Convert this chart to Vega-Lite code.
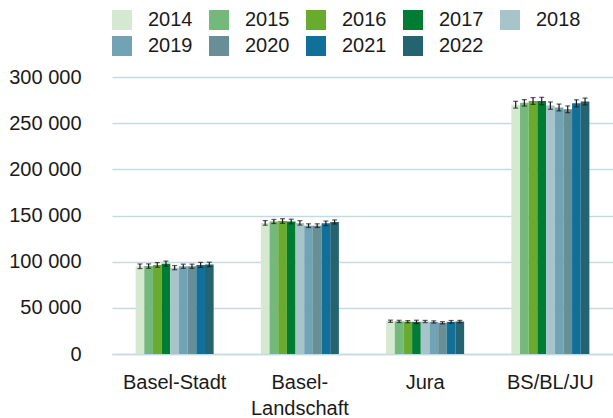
{
  "$schema": "https://vega.github.io/schema/vega-lite/v6.json",
  "width": 501,
  "height": 277,
  "autosize": {"type": "none"},
  "padding": {"left": 112, "top": 77, "right": 0, "bottom": 64},
  "config": {
    "font": "Liberation Sans",
    "view": {"stroke": null},
    "locale": {"number": {"decimal": ",", "thousands": " ", "grouping": [3], "currency": ["", ""]}}
  },
  "data": {
    "values": [
      {"region": "Basel-Stadt", "year": "2014", "value": 95000, "lo": 92500, "hi": 97500},
      {"region": "Basel-Stadt", "year": "2015", "value": 95200, "lo": 92800, "hi": 97600},
      {"region": "Basel-Stadt", "year": "2016", "value": 96500, "lo": 94000, "hi": 99000},
      {"region": "Basel-Stadt", "year": "2017", "value": 97800, "lo": 95000, "hi": 100600},
      {"region": "Basel-Stadt", "year": "2018", "value": 93500, "lo": 91200, "hi": 95800},
      {"region": "Basel-Stadt", "year": "2019", "value": 95000, "lo": 92700, "hi": 97300},
      {"region": "Basel-Stadt", "year": "2020", "value": 95000, "lo": 92700, "hi": 97300},
      {"region": "Basel-Stadt", "year": "2021", "value": 96500, "lo": 93800, "hi": 99200},
      {"region": "Basel-Stadt", "year": "2022", "value": 97000, "lo": 94600, "hi": 99400},
      {"region": "Basel-Landschaft", "year": "2014", "value": 142000, "lo": 139500, "hi": 144500},
      {"region": "Basel-Landschaft", "year": "2015", "value": 143500, "lo": 141300, "hi": 145700},
      {"region": "Basel-Landschaft", "year": "2016", "value": 144000, "lo": 141500, "hi": 146500},
      {"region": "Basel-Landschaft", "year": "2017", "value": 143500, "lo": 141000, "hi": 146000},
      {"region": "Basel-Landschaft", "year": "2018", "value": 142000, "lo": 139600, "hi": 144400},
      {"region": "Basel-Landschaft", "year": "2019", "value": 139000, "lo": 137000, "hi": 141000},
      {"region": "Basel-Landschaft", "year": "2020", "value": 139000, "lo": 137000, "hi": 141000},
      {"region": "Basel-Landschaft", "year": "2021", "value": 141500, "lo": 139000, "hi": 144000},
      {"region": "Basel-Landschaft", "year": "2022", "value": 143000, "lo": 140800, "hi": 145200},
      {"region": "Jura", "year": "2014", "value": 35500, "lo": 34300, "hi": 36700},
      {"region": "Jura", "year": "2015", "value": 35300, "lo": 34100, "hi": 36500},
      {"region": "Jura", "year": "2016", "value": 35000, "lo": 33800, "hi": 36200},
      {"region": "Jura", "year": "2017", "value": 34800, "lo": 33000, "hi": 36600},
      {"region": "Jura", "year": "2018", "value": 35200, "lo": 34000, "hi": 36400},
      {"region": "Jura", "year": "2019", "value": 34700, "lo": 33500, "hi": 35900},
      {"region": "Jura", "year": "2020", "value": 33800, "lo": 32600, "hi": 35000},
      {"region": "Jura", "year": "2021", "value": 34800, "lo": 33300, "hi": 36300},
      {"region": "Jura", "year": "2022", "value": 35200, "lo": 34000, "hi": 36400},
      {"region": "BS/BL/JU", "year": "2014", "value": 270000, "lo": 266300, "hi": 273700},
      {"region": "BS/BL/JU", "year": "2015", "value": 272000, "lo": 268500, "hi": 275500},
      {"region": "BS/BL/JU", "year": "2016", "value": 274000, "lo": 270300, "hi": 277700},
      {"region": "BS/BL/JU", "year": "2017", "value": 274000, "lo": 270000, "hi": 278000},
      {"region": "BS/BL/JU", "year": "2018", "value": 269000, "lo": 265000, "hi": 273000},
      {"region": "BS/BL/JU", "year": "2019", "value": 267000, "lo": 263300, "hi": 270700},
      {"region": "BS/BL/JU", "year": "2020", "value": 265000, "lo": 261300, "hi": 268700},
      {"region": "BS/BL/JU", "year": "2021", "value": 271500, "lo": 267700, "hi": 275300},
      {"region": "BS/BL/JU", "year": "2022", "value": 273500, "lo": 269800, "hi": 277200}
    ]
  },
  "encoding": {
    "x": {
      "field": "region",
      "type": "nominal",
      "sort": ["Basel-Stadt", "Basel-Landschaft", "Jura", "BS/BL/JU"],
      "scale": {"paddingInner": 0.377, "paddingOuter": 0.1885},
      "axis": {
        "title": null,
        "labelAngle": 0,
        "labelFontSize": 20,
        "labelColor": "#1a1a1a",
        "labelPadding": 18,
        "labelLineHeight": 26,
        "labelExpr": "datum.label == 'Basel-Landschaft' ? ['Basel-', 'Landschaft'] : datum.label",
        "ticks": false,
        "domainColor": "#c5d9e2",
        "domainWidth": 1.5,
        "grid": false
      }
    },
    "xOffset": {"field": "year", "type": "nominal", "scale": {"paddingInner": 0, "paddingOuter": 0}}
  },
  "layer": [
    {
      "mark": {"type": "bar"},
      "encoding": {
        "y": {
          "field": "value",
          "type": "quantitative",
          "scale": {"domain": [0, 300000], "nice": false},
          "axis": {
            "title": null,
            "values": [0, 50000, 100000, 150000, 200000, 250000, 300000],
            "format": ",d",
            "labelFontSize": 20,
            "labelColor": "#1a1a1a",
            "labelPadding": 31,
            "ticks": false,
            "domain": false,
            "gridColor": "#c5d9e2",
            "gridWidth": 1.5
          }
        },
        "color": {
          "field": "year",
          "type": "nominal",
          "scale": {
            "domain": ["2014", "2015", "2016", "2017", "2018", "2019", "2020", "2021", "2022"],
            "range": ["#d5e9d1", "#74b87b", "#69ab2e", "#017c34", "#a8c4cb", "#72a3b5", "#698f96", "#11709a", "#236470"]
          },
          "legend": {
            "title": null,
            "orient": "none",
            "legendX": 0,
            "legendY": -67,
            "direction": "horizontal",
            "columns": 5,
            "symbolType": "square",
            "symbolSize": 400,
            "symbolStrokeWidth": 0,
            "symbolOpacity": 1,
            "labelFontSize": 20,
            "labelColor": "#1a1a1a",
            "labelOffset": 16,
            "columnPadding": 16,
            "rowPadding": 6,
            "padding": 0
          }
        }
      }
    },
    {
      "mark": {"type": "rule", "color": "#1a1a1a", "strokeWidth": 1.2},
      "encoding": {
        "y": {"field": "lo", "type": "quantitative"},
        "y2": {"field": "hi"}
      }
    },
    {
      "mark": {"type": "tick", "color": "#1a1a1a", "thickness": 1.2, "size": 5, "orient": "horizontal"},
      "encoding": {"y": {"field": "lo", "type": "quantitative"}}
    },
    {
      "mark": {"type": "tick", "color": "#1a1a1a", "thickness": 1.2, "size": 5, "orient": "horizontal"},
      "encoding": {"y": {"field": "hi", "type": "quantitative"}}
    }
  ]
}
